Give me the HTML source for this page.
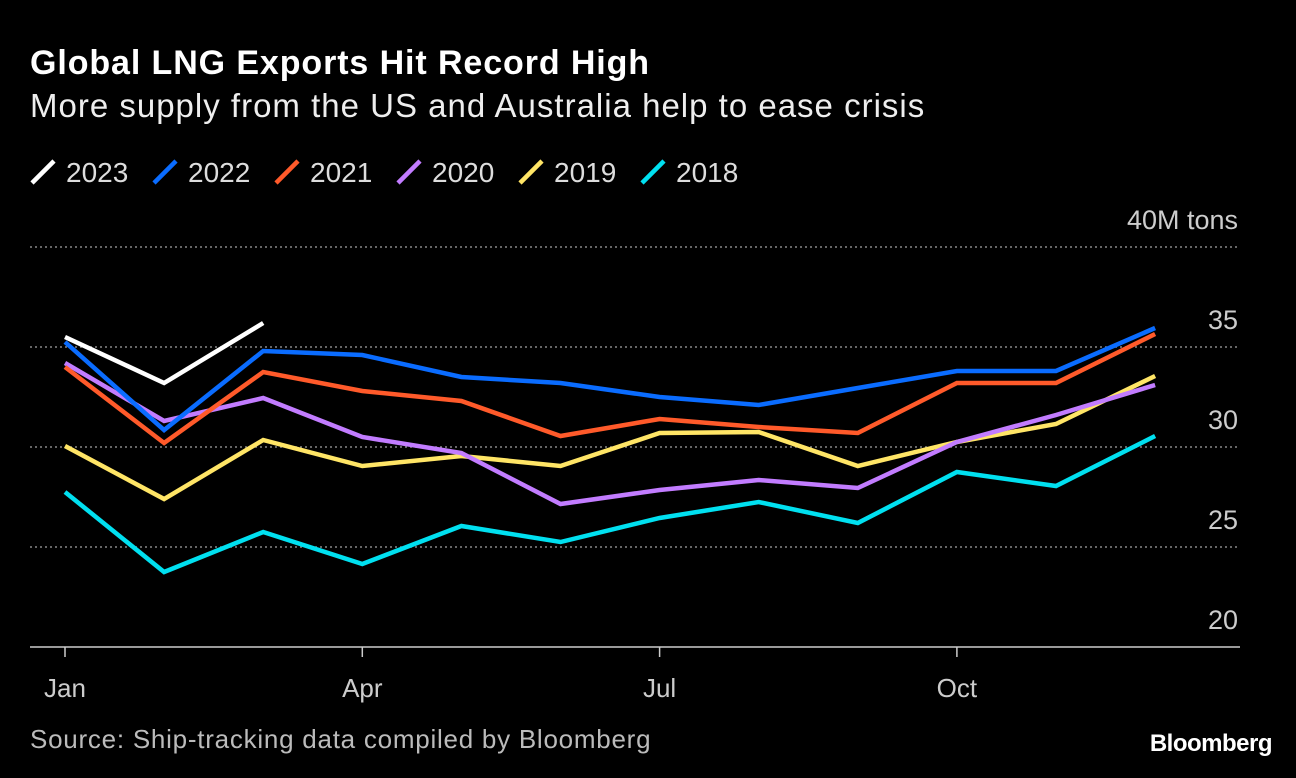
<!DOCTYPE html>
<html><head><meta charset="utf-8"><style>
body{margin:0;background:#000;width:1296px;height:778px;overflow:hidden;font-family:"Liberation Sans",sans-serif;color:#fff}
.t{position:absolute;left:30px;top:44px;font-size:34px;font-weight:bold;line-height:38px;letter-spacing:0.9px}
.s{position:absolute;left:30px;top:87px;font-size:33px;color:#eee;line-height:38px;letter-spacing:1px}
.src{position:absolute;left:30px;top:724px;font-size:26px;line-height:30px;color:#bbb;letter-spacing:0.75px}
.bb{position:absolute;right:24px;top:730px;font-size:24px;font-weight:bold;letter-spacing:-0.5px}
</style></head><body>
<div class="t">Global LNG Exports Hit Record High</div>
<div class="s">More supply from the US and Australia help to ease crisis</div>
<svg id="c" width="1296" height="778" style="position:absolute;left:0;top:0"></svg>
<div class="src">Source: Ship-tracking data compiled by Bloomberg</div>
<div class="bb">Bloomberg</div>
<script>
const months=["Jan","Feb","Mar","Apr","May","Jun","Jul","Aug","Sep","Oct","Nov","Dec"];
const xTicks=["Jan","Apr","Jul","Oct"];
const yTicks=[20,25,30,35,40];
const seriesNames=["2023","2022","2021","2020","2019","2018"];
const colors=["#ffffff","#0a6cff","#ff5a2a","#c27cff","#ffe566","#00e0f0"];
const v2023=[35.5,33.2,36.2];
const v2022=[35.25,30.85,34.8,34.6,33.5,33.2,32.5,32.1,32.95,33.8,33.8,35.95];
const v2021=[34,30.2,33.75,32.8,32.3,30.55,31.4,31,30.7,33.2,33.2,35.65];
const v2020=[34.2,31.3,32.45,30.5,29.7,27.15,27.85,28.35,27.95,30.25,31.6,33.1];
const v2019=[30.05,27.4,30.35,29.05,29.55,29.05,30.7,30.75,29.05,30.25,31.15,33.55];
const v2018=[27.75,23.75,25.75,24.15,26.05,25.25,26.45,27.25,26.2,28.75,28.05,30.55];
const data=[v2023,v2022,v2021,v2020,v2019,v2018];
const svg=document.getElementById('c');const NS="http://www.w3.org/2000/svg";
const X=i=>65+i*99.1;const Y=v=>647-(v-20)*20;
function mk(t,a,p){const e=document.createElementNS(NS,t);for(const k in a)e.setAttribute(k,a[k]);(p||svg).appendChild(e);return e;}
yTicks.forEach(v=>{
 if(v>20){const l=mk('line',{x1:30,x2:1240,y1:Y(v),y2:Y(v),stroke:'#888','stroke-width':1.5,'stroke-dasharray':'2,3'});
 
 }
 const t=mk('text',{x:1238,y:Y(v)-18,'text-anchor':'end','font-size':27,fill:'#ccc'});
 t.textContent=v===40?'40M tons':String(v);
 
 
});
const ax=mk('line',{x1:30,x2:1240,y1:647,y2:647,stroke:'#ccc','stroke-width':1.5});


xTicks.forEach(m=>{const i=months.indexOf(m);
 const tk=mk('line',{x1:X(i),x2:X(i),y1:647,y2:657,stroke:'#ccc','stroke-width':1.5});
 
 
 const t=mk('text',{x:X(i),y:697,'text-anchor':'middle','font-size':26,fill:'#ccc'});t.textContent=m;
 
 });
for(let s=data.length-1;s>=0;s--){
 const pts=data[s].map((v,i)=>X(i)+','+Y(v)).join(' ');
 const p=mk('polyline',{points:pts,fill:'none',stroke:colors[s],'stroke-width':4.5,'stroke-linejoin':'miter'});
 
 
}
const lx=[30,152,274,396,518,640];
seriesNames.forEach((n,s)=>{
 const g=mk('g',{});
 
 
 mk('line',{x1:lx[s]+2,y1:183,x2:lx[s]+24,y2:161,stroke:colors[s],'stroke-width':4.5},g);
 const t=mk('text',{x:lx[s]+36,y:182,'font-size':28,fill:'#ddd'},g);t.textContent=n;
});
</script>
</body></html>
